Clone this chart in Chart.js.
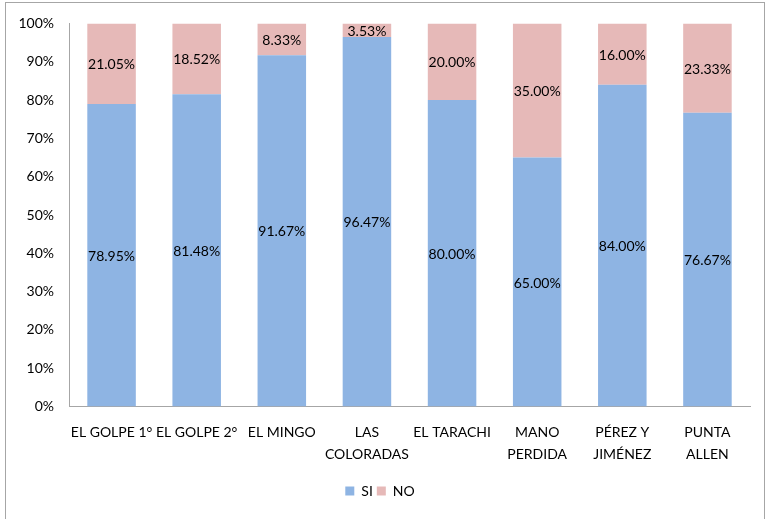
<!DOCTYPE html>
<html>
<head>
<meta charset="utf-8">
<script src="https://cdn.jsdelivr.net/npm/chart.js@4/dist/chart.umd.min.js"></script>
<style>
  html, body { margin: 0; padding: 0; background: #fff; }
  #wrap { width: 769px; height: 519px; position: relative; }
</style>
</head>
<body>
<div id="wrap"><canvas id="chart"></canvas></div>
<script>
// categories and values
var categories = [
    'EL GOLPE 1°', 'EL GOLPE 2°', 'EL MINGO', ['LAS', 'COLORADAS'],
    'EL TARACHI', ['MANO', 'PERDIDA'], ['PÉREZ Y', 'JIMÉNEZ'], ['PUNTA', 'ALLEN']
];
var siValues = [78.95, 81.48, 91.67, 96.47, 80.00, 65.00, 84.00, 76.67];
var noValues = [21.05, 18.52, 8.33, 3.53, 20.00, 35.00, 16.00, 23.33];
var yTicks = [0, 10, 20, 30, 40, 50, 60, 70, 80, 90, 100];

var FONT = "Lato, 'Open Sans', sans-serif";

// outer frame like the spreadsheet chart area
var framePlugin = {
    id: 'frame',
    beforeDraw: function (chart) {
        var ctx = chart.ctx;
        ctx.save();
        ctx.fillStyle = '#fff';
        ctx.fillRect(0, 0, chart.width, chart.height);
        ctx.strokeStyle = '#a6a6a6';
        ctx.lineWidth = 1;
        ctx.strokeRect(5.5, 2.5, chart.width - 10, chart.height - 2);
        ctx.restore();
    }
};

// value labels centred in each segment
var labelPlugin = {
    id: 'segLabels',
    afterDatasetsDraw: function (chart) {
        var ctx = chart.ctx;
        ctx.save();
        ctx.font = '14px ' + FONT;
        ctx.fillStyle = '#000';
        ctx.textAlign = 'center';
        ctx.textBaseline = 'middle';
        chart.data.datasets.forEach(function (ds, i) {
            chart.getDatasetMeta(i).data.forEach(function (bar, j) {
                var y = (bar.y + bar.base) / 2;
                ctx.fillText(ds.data[j].toFixed(2) + '%', bar.x, y + 1);
            });
        });
        ctx.restore();
    }
};

new Chart(document.getElementById('chart'), {
    type: 'bar',
    data: {
        labels: categories,
        datasets: [{
            label: 'SI',
            data: siValues,
            backgroundColor: '#8eb4e3',
            barPercentage: 0.57,
            categoryPercentage: 1
        }, {
            label: 'NO',
            data: noValues,
            backgroundColor: '#e6b9b8',
            barPercentage: 0.57,
            categoryPercentage: 1
        }]
    },
    options: {
        responsive: true,
        maintainAspectRatio: false,
        animation: false,
        layout: { padding: { left: 10, right: 19, top: 18, bottom: 11 } },
        plugins: {
            tooltip: { enabled: false },
            legend: {
                position: 'bottom',
                labels: {
                    font: { family: FONT, size: 14 },
                    color: '#000',
                    boxWidth: 9,
                    boxHeight: 9,
                    padding: 4
                }
            }
        },
        scales: {
            x: {
                stacked: true,
                grid: { display: false, drawTicks: false },
                border: { color: '#a6a6a6' },
                ticks: {
                    color: '#000',
                    font: { family: FONT, size: 14, lineHeight: 1.55 },
                    maxRotation: 0,
                    autoSkip: false,
                    padding: 15
                }
            },
            y: {
                stacked: true,
                min: 0,
                max: 100,
                afterBuildTicks: function (axis) {
                    axis.ticks = yTicks.map(function (v) { return { value: v }; });
                },
                afterFit: function (axis) { axis.width = 59; },
                grid: { display: false, drawTicks: false },
                border: { color: '#a6a6a6' },
                ticks: {
                    color: '#000',
                    font: { family: FONT, size: 14 },
                    padding: 15,
                    callback: function (v) { return v + '%'; }
                }
            }
        }
    },
    plugins: [framePlugin, labelPlugin]
});
</script>
</body>
</html>
